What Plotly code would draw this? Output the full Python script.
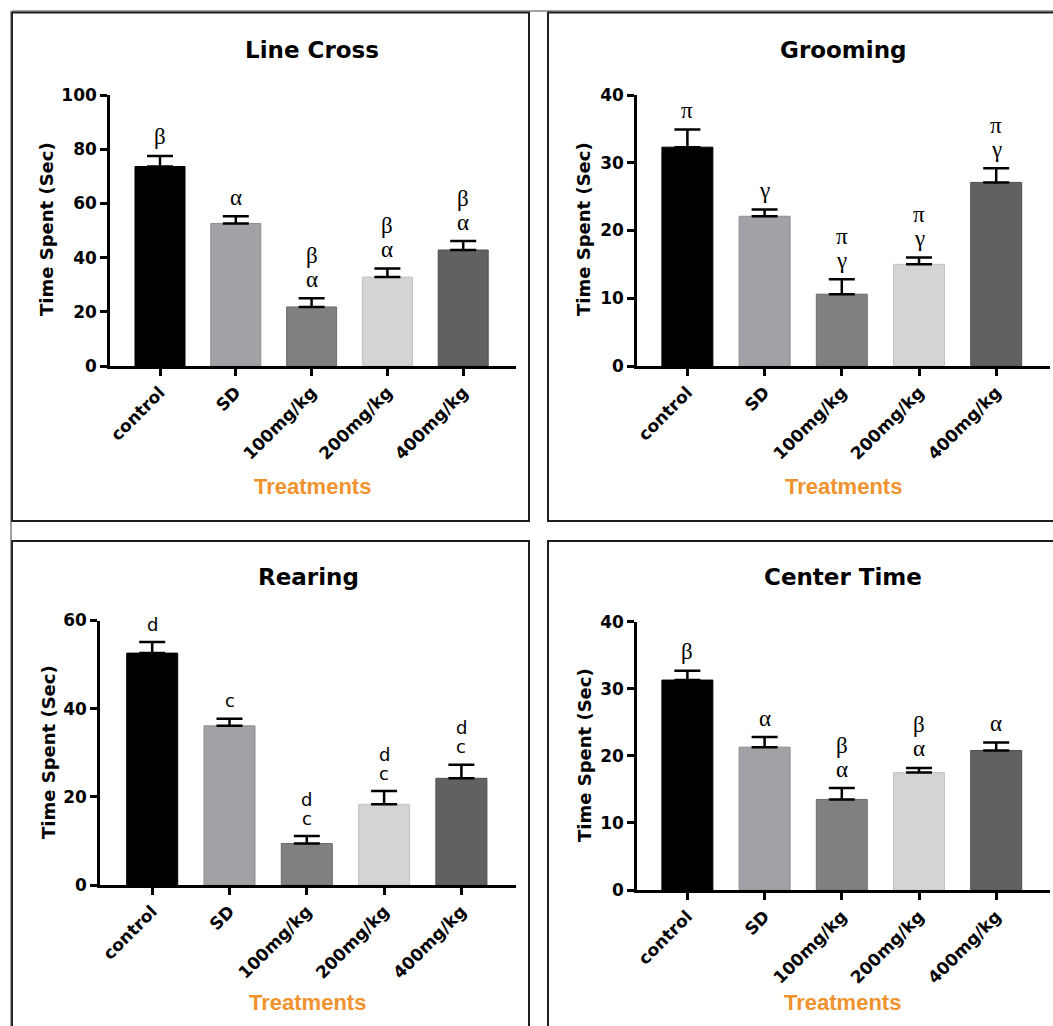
import plotly.graph_objects as go

W, H = 1053, 1026

categories = ["control", "SD", "100mg/kg", "200mg/kg", "400mg/kg"]
bar_colors = ["#000000", "#A1A1A6", "#808080", "#D4D4D4", "#616161"]
bar_edges = ["#000000", "#8C8C91", "#6C6C6C", "#C2C2C2", "#4E4E4E"]

titles = ["Line Cross", "Grooming", "Rearing", "Center Time"]
y_title = "Time Spent (Sec)"
x_title = "Treatments"

line_cross_mean = [73.6, 52.6, 21.8, 32.8, 42.8]
line_cross_sem = [3.9, 2.7, 3.2, 3.2, 3.3]
line_cross_letters = [["β"], ["α"], ["α", "β"], ["α", "β"], ["α", "β"]]

grooming_mean = [32.3, 22.1, 10.6, 15.0, 27.1]
grooming_sem = [2.6, 1.0, 2.2, 1.0, 2.1]
grooming_letters = [["π"], ["γ"], ["γ", "π"], ["γ", "π"], ["γ", "π"]]

rearing_mean = [52.6, 36.1, 9.4, 18.3, 24.2]
rearing_sem = [2.5, 1.6, 1.7, 3.0, 3.1]
rearing_letters = [["d"], ["c"], ["c", "d"], ["c", "d"], ["c", "d"]]

center_mean = [31.3, 21.3, 13.5, 17.5, 20.8]
center_sem = [1.4, 1.5, 1.7, 0.7, 1.2]
center_letters = [["β"], ["α"], ["α", "β"], ["α", "β"], ["α"]]

y_max = [100, 40, 60, 40]
y_dtick = [20, 10, 20, 10]

means = [line_cross_mean, grooming_mean, rearing_mean, center_mean]
sems = [line_cross_sem, grooming_sem, rearing_sem, center_sem]
letters = [line_cross_letters, grooming_letters, rearing_letters, center_letters]

# pixel geometry of each panel
geo = [
    dict(x0=110, x1=516, y0=95, y1=366, first=160, step=75.8,
         title=(312, 50), xt=(312, 487), yt=(46, 229)),
    dict(x0=637, x1=1050, y0=95, y1=366, first=687.4, step=77.2,
         title=(843, 50), xt=(843, 487), yt=(583.5, 229.5)),
    dict(x0=100, x1=515.5, y0=620.5, y1=885, first=152.2, step=77.3,
         title=(308, 577), xt=(307, 1002), yt=(48, 752)),
    dict(x0=637, x1=1050, y0=621.7, y1=890, first=687.4, step=77.2,
         title=(843, 577), xt=(842, 1002), yt=(584, 755)),
]

def px(v):
    return v / W

def py(v):
    return 1 - v / H

fig = go.Figure()
annotations = []
layout_axes = {}

TICK_FONT = dict(family="DejaVu Sans", size=17, color="black", weight="bold")
ORANGE = "#F0922E"

for i in range(4):
    k = i + 1
    g = geo[i]
    xa = "x" if k == 1 else f"x{k}"
    ya = "y" if k == 1 else f"y{k}"
    fig.add_trace(go.Bar(
        x=categories, y=means[i], xaxis=xa, yaxis=ya, width=0.66,
        marker=dict(color=bar_colors, line=dict(color=bar_edges, width=1)),
        error_y=dict(type="data", array=sems[i], arrayminus=[0] * 5,
                     symmetric=False, color="black", thickness=2.5, width=13),
        showlegend=False, hoverinfo="skip",
    ))
    xr = [-(g["first"] - g["x0"]) / g["step"], (g["x1"] - g["first"]) / g["step"]]
    layout_axes["xaxis" if k == 1 else f"xaxis{k}"] = dict(
        domain=[px(g["x0"]), px(g["x1"])], anchor=ya, range=xr,
        type="category", showline=True, linecolor="black", linewidth=2.5,
        ticks="outside", ticklen=7, tickwidth=2.5, tickcolor="black",
        tickangle=-45, tickfont=TICK_FONT, showgrid=False, zeroline=False,
        fixedrange=True, automargin=False,
    )
    layout_axes["yaxis" if k == 1 else f"yaxis{k}"] = dict(
        domain=[py(g["y1"]), py(g["y0"])], anchor=xa, range=[0, y_max[i]],
        dtick=y_dtick[i], tick0=0, showline=True, linecolor="black",
        linewidth=2.5, ticks="outside", ticklen=7, tickwidth=2.5,
        tickcolor="black", tickfont=TICK_FONT, showgrid=False,
        zeroline=False, fixedrange=True, automargin=False,
    )
    # significance letters
    greek = i != 2
    base = 19 if greek else 18
    spacing = 24 if greek else 19
    lfont = (dict(family="Liberation Serif", size=23, color="black") if greek
             else dict(family="DejaVu Sans", size=18, color="black"))
    for j, labs in enumerate(letters[i]):
        for m, lab in enumerate(labs):
            annotations.append(dict(
                x=categories[j], y=means[i][j] + sems[i][j], xref=xa, yref=ya,
                text=lab, showarrow=False, yanchor="middle", xanchor="center",
                yshift=base + m * spacing, font=lfont,
            ))
    # panel title
    annotations.append(dict(
        x=px(g["title"][0]), y=py(g["title"][1]), xref="paper", yref="paper",
        text=titles[i], showarrow=False, xanchor="center", yanchor="middle",
        font=dict(family="DejaVu Sans", size=23, color="black", weight="bold"),
    ))
    annotations.append(dict(
        x=px(g["xt"][0]), y=py(g["xt"][1]), xref="paper", yref="paper",
        text=x_title, showarrow=False, xanchor="center", yanchor="middle",
        font=dict(family="Liberation Sans", size=22, color=ORANGE, weight="bold"),
    ))
    annotations.append(dict(
        x=px(g["yt"][0]), y=py(g["yt"][1]), xref="paper", yref="paper",
        text=y_title, showarrow=False, xanchor="center", yanchor="middle",
        textangle=-90,
        font=dict(family="DejaVu Sans", size=18, color="black", weight="bold"),
    ))

BORDER = "#1E1E1E"
boxes = [(12, 12.5, 529, 521), (548, 12.5, 1062, 521),
         (12, 541, 529, 1040), (548, 541, 1062, 1040)]
shapes = []
for (a, b, c, d) in boxes:
    shapes.append(dict(type="rect", xref="paper", yref="paper",
                       x0=px(a), x1=px(c), y0=py(d), y1=py(b),
                       line=dict(color=BORDER, width=2), fillcolor="rgba(0,0,0,0)"))
shapes.append(dict(type="line", xref="paper", yref="paper",
                   x0=px(12), x1=px(1060), y0=py(11), y1=py(11),
                   line=dict(color="#444444", width=1)))
shapes.append(dict(type="line", xref="paper", yref="paper",
                   x0=px(11), x1=px(11), y0=py(11), y1=py(1040),
                   line=dict(color="#444444", width=1)))

fig.update_layout(
    width=W, height=H,
    margin=dict(l=0, r=0, t=0, b=0, pad=0, autoexpand=False),
    paper_bgcolor="white", plot_bgcolor="white",
    annotations=annotations, shapes=shapes, bargap=0.3,
    **layout_axes,
)

fig.write_html(
    "out.html",
    config={"displayModeBar": False},
    post_script="document.body.style.margin='0';document.body.style.overflow='hidden';",
)
